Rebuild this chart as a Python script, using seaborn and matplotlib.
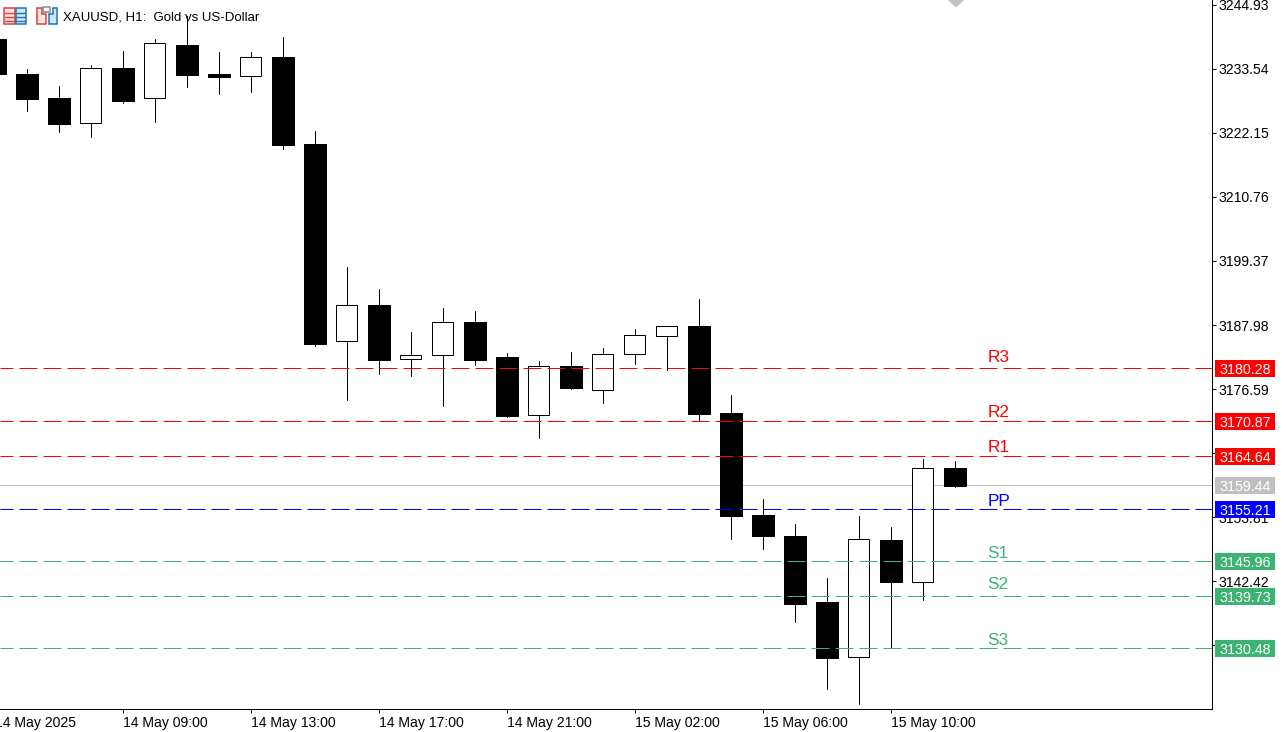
import numpy as np
import pandas as pd
import matplotlib
matplotlib.use("Agg")
import matplotlib.pyplot as plt
from matplotlib.patches import Rectangle, Polygon
import seaborn as sns

opens = [3238.85,3232.63,3228.36,3223.86,3233.70,3228.31,3237.79,3232.63,3232.22,3235.65,
         3220.18,3185.19,3191.54,3181.89,3182.60,3188.52,3182.29,3171.92,3180.69,3176.37,
         3182.77,3185.98,3187.81,3172.33,3154.19,3150.46,3138.72,3128.88,3149.75,3142.22,3162.55]
closes = [3232.63,3228.24,3223.79,3233.64,3227.88,3238.09,3232.50,3232.15,3235.60,3220.00,
          3184.66,3191.49,3181.81,3182.60,3188.47,3181.81,3171.85,3180.64,3176.83,3182.77,
          3186.15,3187.75,3172.21,3154.07,3150.51,3138.42,3128.81,3149.87,3142.33,3162.50,3159.40]
highs = [3239.50,3233.52,3230.49,3234.23,3236.72,3238.85,3242.94,3236.54,3236.54,3239.21,
         3222.49,3198.30,3194.39,3186.74,3191.01,3190.48,3183.01,3181.58,3183.18,3183.89,
         3187.27,3187.81,3192.61,3175.54,3157.04,3152.59,3142.99,3154.01,3152.06,3164.15,3163.80]
lows = [3232.00,3226.10,3222.37,3221.48,3227.52,3224.14,3230.37,3229.07,3229.48,3219.29,
        3184.25,3174.70,3179.32,3178.97,3173.63,3180.92,3171.68,3167.94,3176.66,3174.17,
        3181.10,3180.04,3171.14,3149.98,3148.20,3135.22,3123.30,3120.63,3130.48,3139.13,3159.17]

level_names = ["R3","R2","R1","PP","S1","S2","S3"]
level_values = [3180.28,3170.87,3164.64,3155.21,3145.96,3139.73,3130.48]
level_colors = ["#FF0000","#FF0000","#FF0000","#0000FF","#3CB371","#3CB371","#3CB371"]
level_lift_px = [6.4,4.4,4.4,3.3,3.1,7.8,3.1]
last_price = 3159.44
y_ticks = [3244.93,3233.54,3222.15,3210.76,3199.37,3187.98,3176.59,3165.20,3153.81,3142.42,3131.03]
y_tick_labels = ["3244.93","3233.54","3222.15","3210.76","3199.37","3187.98","3176.59","",
                 "3153.81","3142.42",""]
x_tick_pos = [4,8,12,16,20,24,28]
x_tick_labels = ["14 May 09:00","14 May 13:00","14 May 17:00","14 May 21:00",
                 "15 May 02:00","15 May 06:00","15 May 10:00"]
first_label = "14 May 2025"
title = "XAUUSD, H1:  Gold vs US-Dollar"

W, H = 1287, 732
sns.set_theme(style="white")
plt.rcParams["font.family"] = ["Liberation Sans", "DejaVu Sans"]
FS = 10.1
LW = 0.72
fig = plt.figure(figsize=(W/100, H/100), dpi=100, facecolor="white")
AR, AB = 1212.0, 709.0
ax = fig.add_axes([0, 1-AB/H, AR/W, AB/H], facecolor="white")
PX = 0.17786
TOP = 3245.79
PITCH = 32.0
X0 = -5.3
ax.set_xlim(-X0/PITCH, (AR-X0)/PITCH)
ax.set_ylim(TOP-AB*PX, TOP)

idx = np.arange(len(opens))
wicks = pd.DataFrame({"i": np.r_[idx, idx], "p": highs+lows})
sns.lineplot(data=wicks, x="i", y="p", units="i", estimator=None, color="black",
             lw=LW, ax=ax, zorder=2, legend=False)
o, c = np.array(opens), np.array(closes)
up = c > o
ax.bar(idx[~up], (o-c)[~up], bottom=c[~up], width=22/PITCH, color="black",
       edgecolor="black", linewidth=LW, zorder=3)
ax.bar(idx[up], (c-o)[up], bottom=o[up], width=21/PITCH, color="white",
       edgecolor="black", linewidth=LW, zorder=3)

ax.axhline(last_price, color="#C0C0C0", lw=LW, zorder=1)
for v, col in zip(level_values, level_colors):
    ax.axhline(v, color=col, lw=LW, linestyle=(5, (18, 6)), zorder=4)
for n, v, col, lift in zip(level_names, level_values, level_colors, level_lift_px):
    ax.annotate(n, (31.03, v), xytext=(0, lift*0.72), textcoords="offset points",
                color=col, fontsize=12.4, ha="left", va="baseline", zorder=5)

ax.set_xlabel(""); ax.set_ylabel("")
ax.yaxis.tick_right()
ax.set_yticks(y_ticks, y_tick_labels)
ax.set_xticks(x_tick_pos, x_tick_labels)
ax.tick_params(axis="y", which="major", length=2.88, width=LW, color="black", pad=1.8,
               labelsize=FS, labelcolor="black", right=True, left=False)
ax.tick_params(axis="x", which="major", length=2.88, width=LW, color="black", pad=2.3,
               labelsize=FS, labelcolor="black", bottom=True)
for t in ax.get_xticklabels():
    t.set_ha("left")
for s in ("top", "left"):
    ax.spines[s].set_visible(False)
for s in ("right", "bottom"):
    ax.spines[s].set_visible(True)
    ax.spines[s].set_color("black")
    ax.spines[s].set_linewidth(LW)

fr = lambda px: px/AR
ytrans = ax.get_yaxis_transform()
tags = list(zip(level_values, level_colors)) + [(last_price, "#C0C0C0")]
for v, col in tags:
    ax.add_patch(Rectangle((fr(1215), v-8.5*PX), fr(60), 17*PX, transform=ytrans,
                           facecolor=col, edgecolor="none", clip_on=False, zorder=10))
    ax.text(fr(1219), v, f"{v:.2f}", transform=ytrans, color="white", fontsize=10.3,
            ha="left", va="center_baseline", clip_on=False, zorder=11)

ax.annotate(first_label, (0, 0), xycoords=ax.get_xaxis_transform(), xytext=(0, -5.18),
            textcoords="offset points", fontsize=FS, color="black", ha="left", va="top",
            clip_on=False, annotation_clip=False)

def pts(*xy):
    return [(x/W, 1-y/H) for x, y in xy]
def poly(ec, fc, *xy):
    fig.add_artist(Polygon(pts(*xy), closed=True, facecolor=fc, edgecolor=ec, linewidth=1.1,
                           transform=fig.transFigure))
poly("none", "#C0C0C0", (948, 0), (964, 0), (956, 7.5))
fig.text(63/W, 1-20.7/H, title, fontsize=9.55, color="black", ha="left", va="baseline")

RED, BLUE = "#E0403C", "#1F78B4"
poly(RED, "#FDE3DC", (4, 8), (14.5, 8), (14.5, 23.5), (4, 23.5))
poly(BLUE, "#CFE6FA", (15.5, 8), (25.5, 8), (25.5, 23.5), (15.5, 23.5))
for y in (12.5, 16.5, 20.5):
    fig.add_artist(plt.Line2D([5/W, 14/W], [1-y/H]*2, color=RED, lw=1.0))
    fig.add_artist(plt.Line2D([16/W, 25/W], [1-y/H]*2, color=BLUE, lw=1.0))
poly(RED, "#FDE3DC", (36.5, 8), (42, 8), (42, 13.5), (46, 13.5), (46, 23.5), (36.5, 23.5))
poly(BLUE, "#CFE6FA", (57, 8), (53, 8), (53, 13.5), (48.5, 13.5), (48.5, 23.5), (57, 23.5))
poly("#8A8A8A", "white", (42.5, 7), (50, 7), (50, 11.5), (42.5, 11.5))

fig.savefig("out.png", dpi=100, facecolor="white")
